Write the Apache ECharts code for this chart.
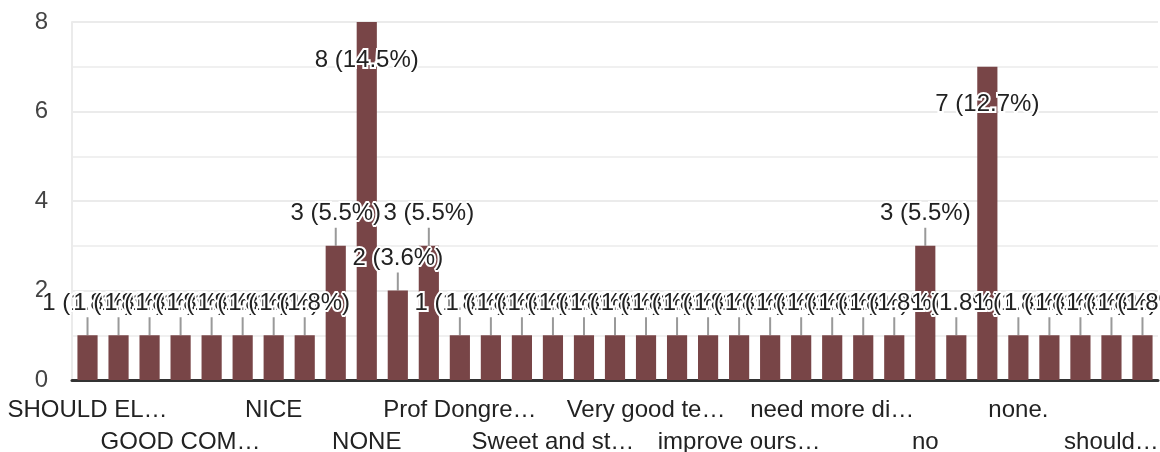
<!DOCTYPE html>
<html>
<head>
<meta charset="utf-8">
<script src="https://cdn.jsdelivr.net/npm/echarts@6/dist/echarts.min.js"></script>
<style>
  html, body { margin: 0; padding: 0; background: #fff; }
  #chart { width: 1160px; height: 452px; }
</style>
</head>
<body>
<div id="chart"></div>
<script>
// responses, in the order the chart shows them (only every third name is printed)
var categories = [
  'SHOULD EL…', 'response 2', 'response 3', 'GOOD COM…', 'response 5', 'response 6',
  'NICE', 'response 8', 'response 9', 'NONE', 'response 11', 'response 12',
  'Prof Dongre…', 'response 14', 'response 15', 'Sweet and st…', 'response 17', 'response 18',
  'Very good te…', 'response 20', 'response 21', 'improve ours…', 'response 23', 'response 24',
  'need more di…', 'response 26', 'response 27', 'no', 'response 29', 'response 30',
  'none.', 'response 32', 'response 33', 'should…', 'response 35'
];
var counts = [
  1, 1, 1, 1, 1, 1, 1, 1, 3, 8, 2, 3,
  1, 1, 1, 1, 1, 1, 1, 1, 1, 1, 1, 1, 1, 1, 1,
  3, 1, 7, 1, 1, 1, 1, 1
];
var yTicks = [0, 2, 4, 6, 8];
var total = counts.reduce(function (a, b) { return a + b; }, 0);

(function () {
  var chart = echarts.init(document.getElementById('chart'));
  var labelBase = { fontSize: 24, color: '#222', lineHeight: 32, showMinLabel: true, showMaxLabel: true, hideOverlap: false };
  // two stacked rows of category names: row one on the main axis, row two on a bare copy
  function row(offset, margin) {
    return {
      type: 'category',
      data: categories,
      position: 'bottom',
      axisTick: { show: false },
      axisLine: offset === 0 ? { lineStyle: { color: '#333', width: 3 } } : { show: false },
      axisLabel: Object.assign({}, labelBase, {
        margin: margin,
        interval: function (i) { return i % 6 === offset; }
      })
    };
  }
  chart.setOption({
    animation: false,
    textStyle: { fontFamily: '"Liberation Sans", Arial, sans-serif' },
    grid: { left: 72, right: 2, top: 22, bottom: 72, outerBoundsMode: 'none', containLabel: false },
    xAxis: [row(0, 14), row(3, 46)],
    yAxis: {
      type: 'value',
      min: yTicks[0],
      max: yTicks[yTicks.length - 1],
      interval: 2,
      axisLine: { show: true, lineStyle: { color: '#ebebeb', width: 2 } },
      axisTick: { show: false },
      axisLabel: { fontSize: 24, color: '#444', margin: 24 },
      splitLine: { lineStyle: { color: '#ebebeb', width: 2 } },
      minorTick: { show: false, splitNumber: 2 },
      minorSplitLine: { show: true, lineStyle: { color: '#f0f0f0', width: 2 } }
    },
    series: [{
      type: 'bar',
      data: counts,
      barCategoryGap: '35%',
      itemStyle: { color: '#784547' },
      label: {
        show: true,
        position: 'top',
        fontSize: 24,
        color: '#222',
        textBorderColor: '#fff',
        textBorderWidth: 4,
        formatter: function (p) {
          return p.value + ' (' + (p.value / total * 100).toFixed(1) + '%)';
        }
      },
      labelLine: { show: true, lineStyle: { color: '#999', width: 2 } },
      labelLayout: function (p) {
        var r = p.rect;
        var cx = r.x + r.width / 2;
        var big = counts[p.dataIndex] >= 7;
        var cy = big ? r.y + 38 : r.y - 32;
        var half = 11;
        var end = big ? cy - half - 1 : cy + half + 1;
        return {
          x: cx, y: cy, align: 'center', verticalAlign: 'middle',
          labelLinePoints: [[cx, r.y], [cx, (r.y + end) / 2], [cx, end]]
        };
      }
    }]
  });
})();
</script>
</body>
</html>
